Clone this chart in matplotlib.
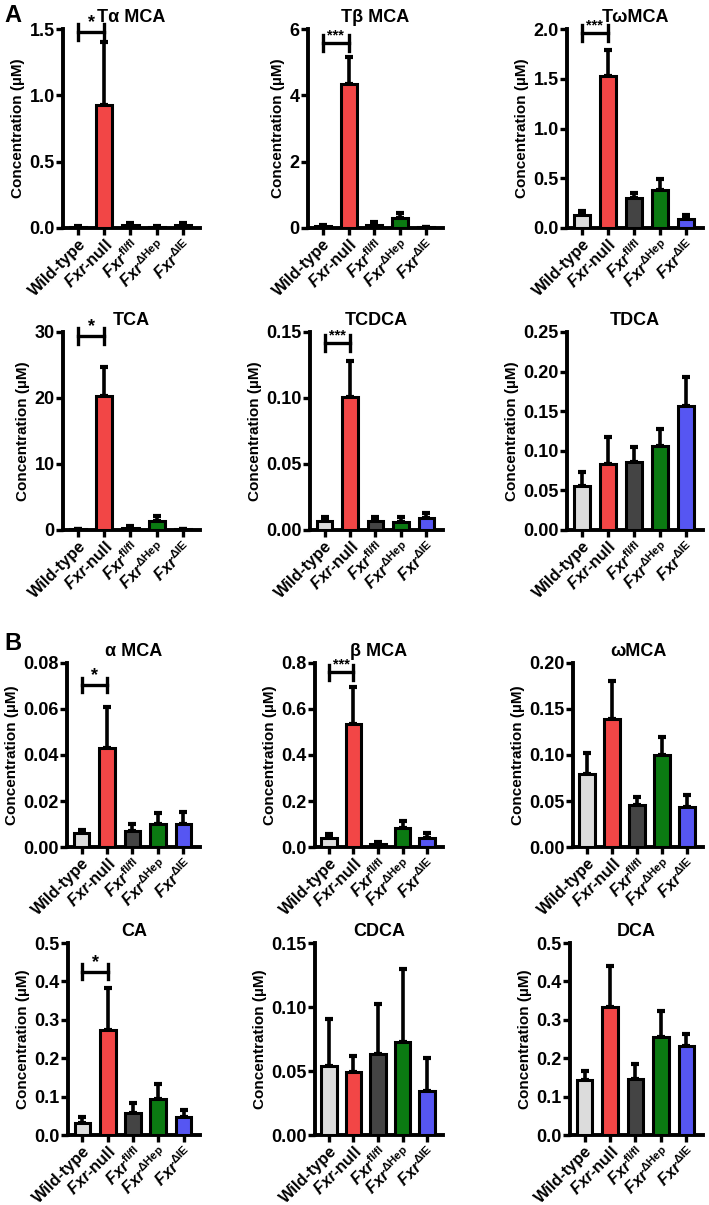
import matplotlib
matplotlib.use("Agg")
import matplotlib.pyplot as plt
import numpy as np

plt.rcParams["font.family"] = ["Liberation Sans", "DejaVu Sans"]
plt.rcParams["font.weight"] = "bold"
plt.rcParams["mathtext.fontset"] = "custom"
plt.rcParams["mathtext.rm"] = "Liberation Sans:bold"
plt.rcParams["mathtext.it"] = "Liberation Sans:italic:bold"
plt.rcParams["mathtext.bf"] = "Liberation Sans:bold"

# groups
groups = ["Wild-type", r"$\mathit{Fxr}$-null", r"$\mathit{Fxr}^{\mathrm{fl/fl}}$",
          r"$\mathit{Fxr}^{\mathrm{\Delta Hep}}$", r"$\mathit{Fxr}^{\mathrm{\Delta IE}}$"]
colors = ["#dcdcdc", "#f24646", "#444444", "#0b7a12", "#5656f2"]

# panel titles, means and SEM (µM)
titles = ["Tα MCA", "Tβ MCA", "TωMCA", "TCA", "TCDCA", "TDCA",
          "α MCA", "β MCA", "ωMCA", "CA", "CDCA", "DCA"]

t_a_mca = [0.010, 0.930, 0.020, 0.010, 0.020]
t_a_mca_sem = [0.005, 0.470, 0.015, 0.008, 0.020]
t_b_mca = [0.05, 4.35, 0.10, 0.30, 0.02]
t_b_mca_sem = [0.03, 0.80, 0.08, 0.15, 0.02]
t_w_mca = [0.13, 1.53, 0.30, 0.38, 0.09]
t_w_mca_sem = [0.04, 0.26, 0.05, 0.11, 0.04]
tca = [0.1, 20.3, 0.3, 1.4, 0.1]
tca_sem = [0.1, 4.4, 0.3, 0.7, 0.1]
tcdca = [0.007, 0.101, 0.007, 0.006, 0.009]
tcdca_sem = [0.003, 0.027, 0.003, 0.004, 0.004]
tdca = [0.056, 0.083, 0.086, 0.106, 0.157]
tdca_sem = [0.017, 0.034, 0.019, 0.022, 0.036]
a_mca = [0.006, 0.043, 0.007, 0.010, 0.010]
a_mca_sem = [0.0015, 0.018, 0.003, 0.0048, 0.0053]
b_mca = [0.040, 0.535, 0.012, 0.083, 0.040]
b_mca_sem = [0.015, 0.160, 0.010, 0.030, 0.022]
w_mca = [0.079, 0.139, 0.046, 0.100, 0.044]
w_mca_sem = [0.023, 0.041, 0.008, 0.020, 0.012]
ca = [0.032, 0.273, 0.056, 0.094, 0.047]
ca_sem = [0.016, 0.110, 0.028, 0.039, 0.019]
cdca = [0.054, 0.049, 0.063, 0.073, 0.034]
cdca_sem = [0.037, 0.013, 0.039, 0.057, 0.026]
dca = [0.142, 0.333, 0.147, 0.256, 0.231]
dca_sem = [0.024, 0.108, 0.038, 0.066, 0.033]

means = [t_a_mca, t_b_mca, t_w_mca, tca, tcdca, tdca,
         a_mca, b_mca, w_mca, ca, cdca, dca]
sems = [t_a_mca_sem, t_b_mca_sem, t_w_mca_sem, tca_sem, tcdca_sem, tdca_sem,
        a_mca_sem, b_mca_sem, w_mca_sem, ca_sem, cdca_sem, dca_sem]

# y axis: (max, step, decimals)
yaxes = [(1.5, 0.5, 1), (6, 2, 0), (2.0, 0.5, 1), (30, 10, 0), (0.15, 0.05, 2), (0.25, 0.05, 2),
         (0.08, 0.02, 2), (0.8, 0.2, 1), (0.20, 0.05, 2), (0.5, 0.1, 1), (0.15, 0.05, 2), (0.5, 0.1, 1)]

# significance Wild-type vs Fxr-null: panel index -> (stars, bracket height)
sig = {0: ("*", 1.48), 1: ("***", 5.58), 2: ("***", 1.96), 3: ("*", 29.4),
       4: ("***", 0.1417), 6: ("*", 0.0704), 7: ("***", 0.759), 9: ("*", 0.425)}

W, H = 709, 1205
fig = plt.figure(figsize=(W / 100, H / 100), dpi=100)

row_px = [(29, 228), (332, 530), (663, 847), (943, 1135)]
col_left = [[63, 308, 567], [63, 310, 567], [67, 315, 573], [68, 315, 570]]
col_right = [200, 443, 703]

x = np.arange(len(groups))
for i in range(12):
    r, c = divmod(i, 3)
    top, bot = row_px[r]
    left, right = col_left[r][c], col_right[c]
    ax = fig.add_axes([left / W, 1 - bot / H, (right - left) / W, (bot - top) / H])

    ax.bar(x, means[i], width=0.62, color=colors, edgecolor="black", linewidth=2.2, zorder=3)
    ax.errorbar(x, means[i], yerr=[np.zeros(5), sems[i]], fmt="none", ecolor="black",
                elinewidth=2.6, capsize=3, capthick=3, zorder=2)

    ymax, step, dec = yaxes[i]
    ax.set_ylim(0, ymax)
    ax.set_xlim(-0.57, 4.65)
    ticks = np.arange(0, ymax + step / 2, step)
    ax.set_yticks(ticks)
    ax.set_yticklabels([f"{t:.{dec}f}" for t in ticks], fontsize=13, fontweight="bold")
    ax.set_xticks(x)
    ax.set_xticklabels(groups, rotation=45, ha="right", rotation_mode="anchor",
                       fontsize=11.8, fontweight="bold")
    ax.tick_params(axis="y", direction="out", length=5, width=2.4, pad=1)
    ax.tick_params(axis="x", direction="out", length=5, width=2.4, pad=1)
    for s in ["top", "right"]:
        ax.spines[s].set_visible(False)
    for s in ["left", "bottom"]:
        ax.spines[s].set_linewidth(2.8)
    ax.set_ylabel("Concentration (µM)", fontsize=11, fontweight="bold", labelpad=3)
    ax.set_title(titles[i], fontsize=13, fontweight="bold", pad=5)

    if i in sig:
        stars, y = sig[i]
        d = 0.04 * ymax
        kw = dict(color="black", lw=2.4, clip_on=False, zorder=4)
        ax.plot([0, 1], [y, y], **kw)
        ax.plot([0, 0], [y - d, y + d], **kw)
        ax.plot([1, 1], [y - d, y + d], **kw)
        ax.text(0.5, y + d * 0.1, stars, ha="center", va="bottom",
                fontsize=13 if stars == "*" else 10.5, fontweight="bold")

fig.text(4 / W, 1 - 4 / H, "A", fontsize=17, fontweight="bold", ha="left", va="top")
fig.text(4 / W, 1 - 632 / H, "B", fontsize=17, fontweight="bold", ha="left", va="top")

fig.savefig("out.png", dpi=100)
